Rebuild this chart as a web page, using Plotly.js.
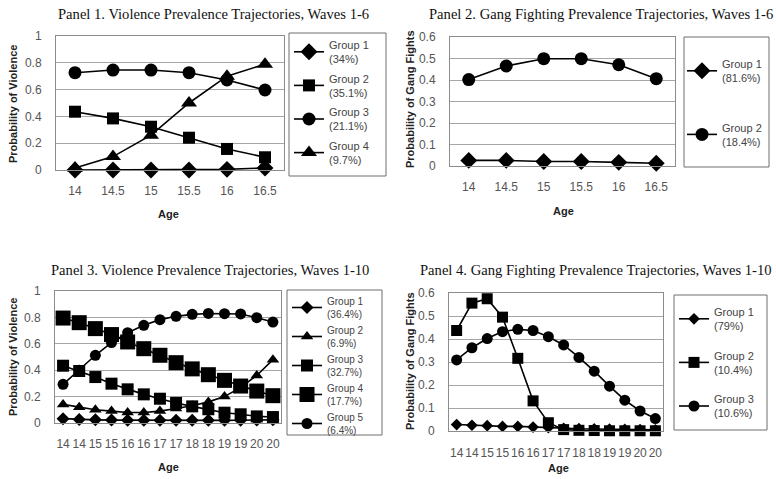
<!DOCTYPE html>
<html><head><meta charset="utf-8">
<script src="https://cdn.plot.ly/plotly-3.0.1.min.js"></script>
<style>html,body{margin:0;padding:0;background:#fff}#chart{width:776px;height:479px}</style>
</head><body><div id="chart"></div>
<script>
// ---- data ----
const ages6 = [14, 14.5, 15, 15.5, 16, 16.5];
const ageLabels6 = ['14', '14.5', '15', '15.5', '16', '16.5'];
const ages10 = [14, 14.5, 15, 15.5, 16, 16.5, 17, 17.5, 18, 18.5, 19, 19.5, 20, 20.5];
const ageLabels10 = ['14', '14', '15', '15', '16', '16', '17', '17', '18', '18', '19', '19', '20', '20'];

// Panel 1: violence, waves 1-6
const p1Names = ['Group 1<br>(34%)', 'Group 2<br>(35.1%)', 'Group 3<br>(21.1%)', 'Group 4<br>(9.7%)'];
const p1G1 = [0.0, 0.0, 0.0, 0.0, 0.005, 0.015];
const p1G2 = [0.435, 0.385, 0.323, 0.241, 0.157, 0.095];
const p1G3 = [0.726, 0.746, 0.746, 0.726, 0.672, 0.597];
const p1G4 = [0.015, 0.10, 0.26, 0.50, 0.70, 0.79];

// Panel 2: gang fighting, waves 1-6
const p2Names = ['Group 1<br>(81.6%)', 'Group 2<br>(18.4%)'];
const p2G1 = [0.026, 0.026, 0.021, 0.021, 0.017, 0.013];
const p2G2 = [0.402, 0.465, 0.499, 0.499, 0.471, 0.406];

// Panel 3: violence, waves 1-10
const p3Names = ['Group 1<br>(36.4%)', 'Group 2<br>(6.9%)', 'Group 3<br>(32.7%)', 'Group 4<br>(17.7%)', 'Group 5<br>(6.4%)'];
const p3G1 = [0.033, 0.027, 0.024, 0.022, 0.021, 0.02, 0.02, 0.02, 0.02, 0.02, 0.02, 0.021, 0.022, 0.024];
const p3G2 = [0.141, 0.12, 0.10, 0.09, 0.08, 0.08, 0.09, 0.11, 0.13, 0.16, 0.20, 0.27, 0.36, 0.48];
const p3G3 = [0.434, 0.394, 0.348, 0.298, 0.255, 0.217, 0.184, 0.152, 0.126, 0.104, 0.078, 0.066, 0.05, 0.045];
const p3G4 = [0.795, 0.76, 0.715, 0.67, 0.614, 0.563, 0.513, 0.457, 0.41, 0.366, 0.323, 0.28, 0.242, 0.207];
const p3G5 = [0.293, 0.40, 0.513, 0.609, 0.684, 0.74, 0.783, 0.808, 0.823, 0.83, 0.828, 0.826, 0.798, 0.765];

// Panel 4: gang fighting, waves 1-10
const p4Names = ['Group 1<br>(79%)', 'Group 2<br>(10.4%)', 'Group 3<br>(10.6%)'];
const p4G1 = [0.028, 0.025, 0.023, 0.02, 0.02, 0.017, 0.015, 0.012, 0.01, 0.009, 0.008, 0.007, 0.006, 0.005];
const p4G2 = [0.437, 0.556, 0.575, 0.495, 0.316, 0.131, 0.036, 0.006, 0.003, 0.002, 0.001, 0.001, 0.001, 0.001];
const p4G3 = [0.309, 0.362, 0.402, 0.432, 0.442, 0.437, 0.41, 0.374, 0.32, 0.26, 0.195, 0.134, 0.087, 0.054];

// ---- build ----
const W = 776, H = 479;
const px = v => v / W;
const py = v => 1 - v / H;
const SANS = 'Liberation Sans, Arial, sans-serif';
const SERIF = 'Liberation Serif, Times New Roman, serif';

function tr(x, y, name, sym, size, xa, ya, leg) {
  return {
    x: x, y: y, name: name, type: 'scatter', mode: 'lines+markers',
    line: {color: '#000', width: 1.6},
    marker: {symbol: sym, size: size, color: '#000'},
    xaxis: xa, yaxis: ya, legend: leg, legendgroup: leg + name,
    cliponaxis: false, hoverinfo: 'skip'
  };
}

const data = [
  tr(ages6, p1G1, p1Names[0], 'diamond', 13, 'x', 'y', 'legend'),
  tr(ages6, p1G2, p1Names[1], 'square', 12, 'x', 'y', 'legend'),
  tr(ages6, p1G3, p1Names[2], 'circle', 13, 'x', 'y', 'legend'),
  tr(ages6, p1G4, p1Names[3], 'triangle-up', 14, 'x', 'y', 'legend'),

  tr(ages6, p2G1, p2Names[0], 'diamond', 13, 'x2', 'y2', 'legend2'),
  tr(ages6, p2G2, p2Names[1], 'circle', 13, 'x2', 'y2', 'legend2'),

  tr(ages10, p3G1, p3Names[0], 'diamond', 10, 'x3', 'y3', 'legend3'),
  tr(ages10, p3G2, p3Names[1], 'triangle-up', 11, 'x3', 'y3', 'legend3'),
  tr(ages10, p3G3, p3Names[2], 'square', 12, 'x3', 'y3', 'legend3'),
  tr(ages10, p3G4, p3Names[3], 'square', 15, 'x3', 'y3', 'legend3'),
  tr(ages10, p3G5, p3Names[4], 'circle', 11, 'x3', 'y3', 'legend3'),

  tr(ages10, p4G1, p4Names[0], 'diamond', 9, 'x4', 'y4', 'legend4'),
  tr(ages10, p4G2, p4Names[1], 'square', 11, 'x4', 'y4', 'legend4'),
  tr(ages10, p4G3, p4Names[2], 'circle', 11, 'x4', 'y4', 'legend4')
];

function xax(dom, yref, vals, labels, rng, sz, so) {
  return {
    domain: dom, anchor: yref, range: rng, tickvals: vals, ticktext: labels,
    showgrid: false, zeroline: false, showline: true, mirror: true,
    linecolor: '#8c8c8c', linewidth: 1, ticks: '', ticklabelstandoff: so, tickangle: 0,
    tickfont: {family: SANS, size: sz, color: '#555'}, fixedrange: true
  };
}
function yax(dom, xref, rng, dt) {
  return {
    domain: dom, anchor: xref, range: rng, dtick: dt, tick0: 0,
    showgrid: true, gridcolor: '#a6a6a6', gridwidth: 1,
    zeroline: false, showline: true, mirror: true,
    linecolor: '#8c8c8c', linewidth: 1, ticks: '', ticklabelstandoff: 11,
    tickfont: {family: SANS, size: 12, color: '#555'}, fixedrange: true
  };
}
function leg(x, y, size, gap) {
  return {
    x: px(x), y: py(y), xanchor: 'left', yanchor: 'top',
    bgcolor: 'rgba(0,0,0,0)', borderwidth: 0,
    font: {family: SANS, size: size, color: '#444'},
    tracegroupgap: gap, itemwidth: 30, traceorder: 'grouped'
  };
}
function box(x0, y0, x1, y1) {
  return {type: 'rect', xref: 'paper', yref: 'paper',
    x0: px(x0), x1: px(x1), y0: py(y1), y1: py(y0),
    line: {color: '#6e6e6e', width: 1}, fillcolor: 'rgba(0,0,0,0)', layer: 'below'};
}
function ann(text, x, y, font, rot) {
  return {text: text, x: px(x), y: py(y), xref: 'paper', yref: 'paper',
    showarrow: false, xanchor: 'center', yanchor: 'middle', font: font, textangle: rot || 0};
}
const titleFont = {family: SERIF, size: 14.6, color: '#111'};
const axFont = {family: SANS, size: 11, color: '#222', weight: 'bold'};

const layout = {
  width: W, height: H, margin: {l: 0, r: 0, t: 0, b: 0},
  paper_bgcolor: '#fff', plot_bgcolor: '#fff', showlegend: true,
  xaxis: xax([px(56), px(284)], 'y', ages6, ageLabels6, [13.75, 16.75], 12, 10),
  yaxis: yax([py(170), py(36)], 'x', [0, 1], 0.2),
  xaxis2: xax([px(450), px(675)], 'y2', ages6, ageLabels6, [13.75, 16.75], 12, 10),
  yaxis2: yax([py(166), py(37)], 'x2', [0, 0.6], 0.1),
  xaxis3: xax([px(55), px(281)], 'y3', ages10, ageLabels10, [13.75, 20.75], 12, 10),
  yaxis3: yax([py(423), py(291)], 'x3', [0, 1], 0.2),
  xaxis4: xax([px(449), px(663)], 'y4', ages10, ageLabels10, [13.75, 20.75], 12, 11),
  yaxis4: yax([py(431), py(293)], 'x4', [0, 0.6], 0.1),
  legend: leg(289, 31, 11, 2),
  legend2: leg(682, 50, 11, 32),
  legend3: leg(287, 288, 10, 0),
  legend4: leg(674, 298, 11, 12),
  shapes: [box(289, 33, 386, 176), box(684, 37, 769, 167), box(287, 290, 382, 435), box(674, 295, 767, 430)],
  annotations: [
    ann('Panel 1. Violence Prevalence Trajectories, Waves 1-6', 213, 14, titleFont),
    ann('Panel 2. Gang Fighting Prevalence Trajectories, Waves 1-6', 601, 14, titleFont),
    ann('Panel 3. Violence Prevalence Trajectories, Waves 1-10', 210, 270, titleFont),
    ann('Panel 4. Gang Fighting Prevalence Trajectories, Waves 1-10', 596, 270, titleFont),
    ann('Age', 168, 214, axFont), ann('Age', 563, 211, axFont),
    ann('Age', 168, 467, axFont), ann('Age', 558, 468, axFont),
    ann('Probability of Violence', 13, 104, axFont, -90),
    ann('Probability of Gang Fights', 410, 99, axFont, -90),
    ann('Probability of Violence', 13, 357, axFont, -90),
    ann('Probability of Gang Fights', 410, 361, axFont, -90)
  ]
};
Plotly.newPlot('chart', data, layout, {displayModeBar: false, staticPlot: true});
</script></body></html>
